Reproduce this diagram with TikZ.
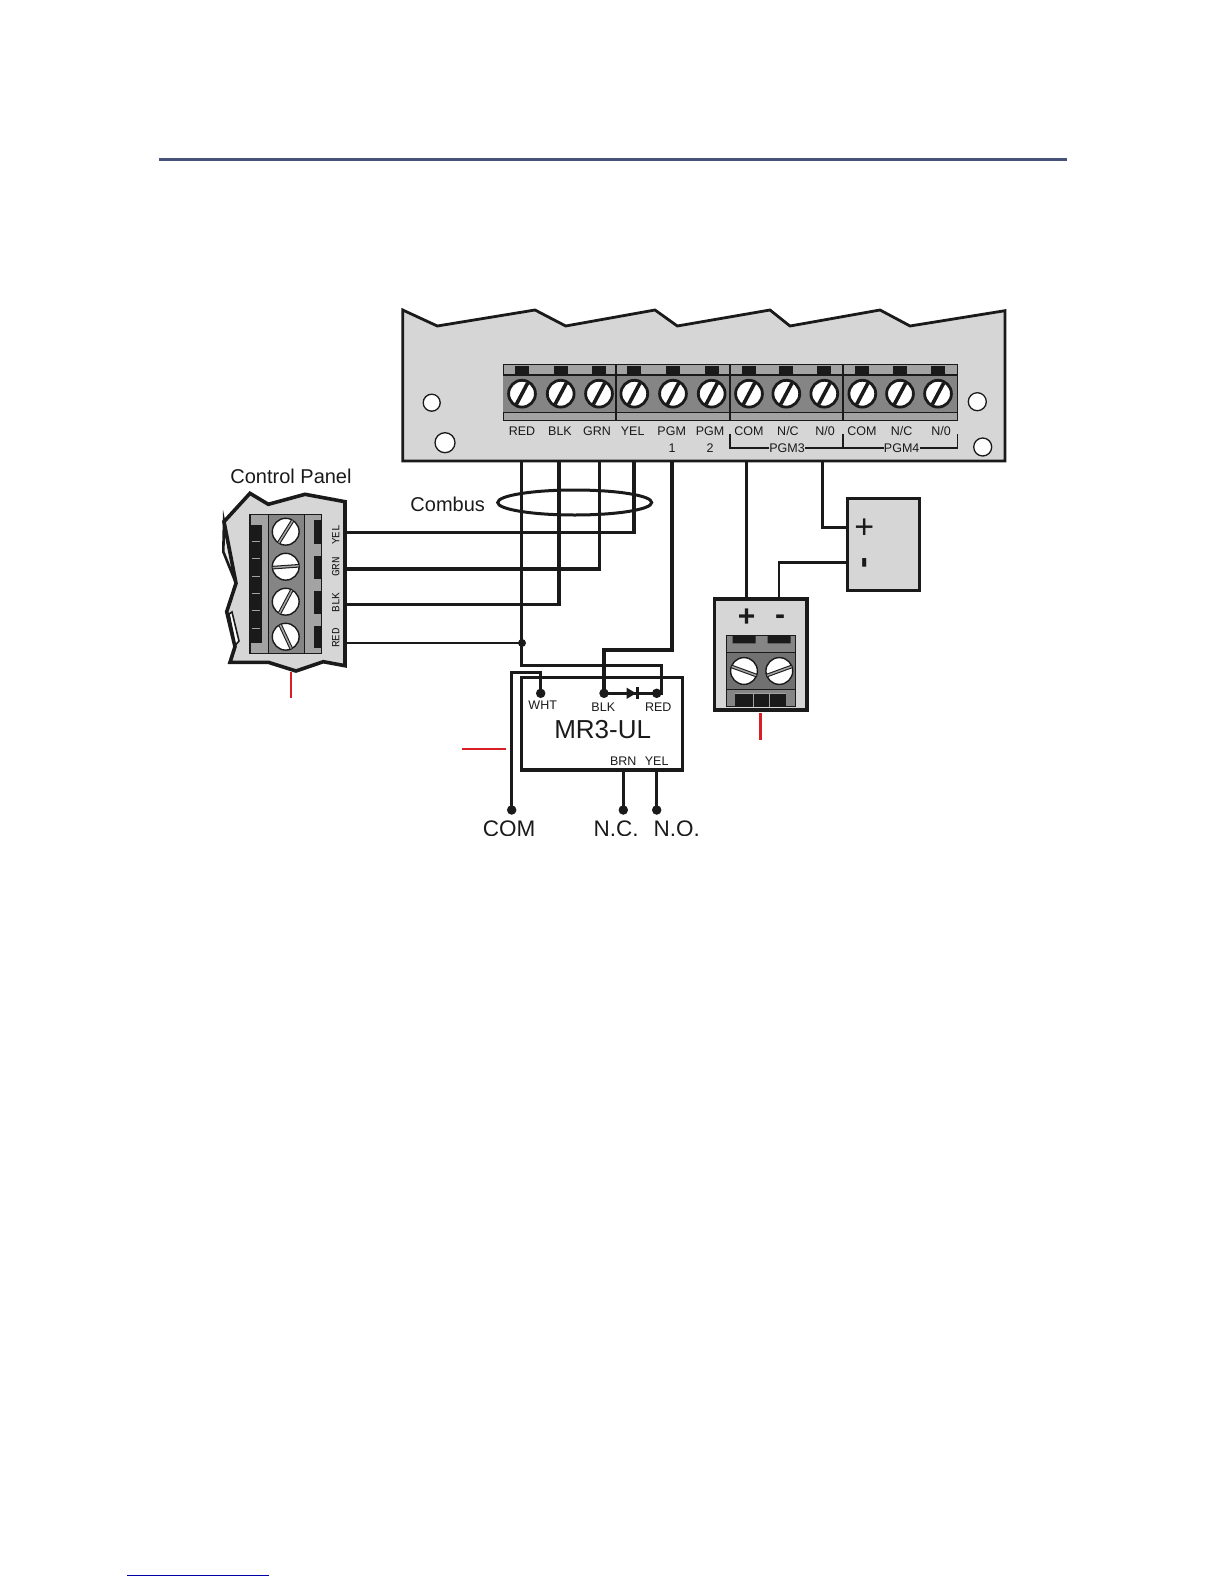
\documentclass[tikz,border=0pt]{standalone}
\usepackage{fontspec}
\usetikzlibrary{shapes.geometric}
\setmainfont{Liberation Sans}
\newfontfamily\tagfont{Liberation Mono}
\definecolor{plate}{HTML}{D6D6D6}
\definecolor{blockgray}{HTML}{A3A3A3}
\definecolor{blockdark}{HTML}{858585}
\definecolor{ink}{HTML}{1A1A1A}
\definecolor{rulecol}{HTML}{47527A}
\definecolor{leadred}{HTML}{D81F26}
\tikzset{
  wire/.style={draw=ink, line width=3.4pt},
  thinwire/.style={draw=ink, line width=2.7pt},
  edge/.style={draw=ink, line width=2.8pt, line join=miter},
  lead/.style={draw=leadred, line width=1.8pt},
  dot/.style={circle, fill=ink, inner sep=0pt, minimum size=9.5pt},
  hole/.style={circle, draw=ink, fill=white, line width=1.3pt, inner sep=0pt, minimum size=#1},
  tag/.style={text=ink, font=\fontsize{12.5pt}{14pt}\selectfont, inner sep=0pt},
  title/.style={text=ink, font=\fontsize{20pt}{22pt}\selectfont, inner sep=0pt},
  bigtag/.style={text=ink, font=\fontsize{22.5pt}{24pt}\selectfont, inner sep=0pt},
  sign/.style={text=ink, inner sep=0pt, font=\fontsize{34pt}{36pt}\selectfont},
  paneltag/.style={text=ink, rotate=90, inner sep=0pt, font=\tagfont\fontsize{11pt}{12pt}\selectfont},
}
% screw with one slot: x, y, angle
\newcommand{\boardscrew}[3]{
  \fill[white, draw=ink, line width=2.8pt] (#1,#2) circle (13.4);
  \draw[ink, line width=3.6pt] ([shift={(-#3:12)}]#1,#2) -- ([shift={(180-#3:12)}]#1,#2);
}
% screw with a double slot: x, y, angle
\newcommand{\blockscrew}[3]{
  \fill[white, draw=ink, line width=1.4pt] (#1,#2) circle (13.4);
  \draw[ink, line width=3.6pt] ([shift={(-#3:13)}]#1,#2) -- ([shift={(180-#3:13)}]#1,#2);
  \draw[blockgray, line width=1.5pt] ([shift={(-#3:13)}]#1,#2) -- ([shift={(180-#3:13)}]#1,#2);
}
\begin{document}
\begin{tikzpicture}[x=1pt, y=-1pt]
  \useasboundingbox (0,0) rectangle (1224,1584);
  % page rules
  \coordinate (ruleL) at (159,159.3);
  \coordinate (ruleR) at (1066.7,159.3);
  \draw[rulecol, line width=2.7pt] (ruleL) -- (ruleR);
  \coordinate (linkL) at (127.3,1575.3);
  \coordinate (linkR) at (268.7,1575.3);
  \draw[blue!65!black, line width=1pt] (linkL) -- (linkR);

  % expansion board
  \draw[edge, fill=plate] (402.7,310) -- (437.3,326) -- (535,310) -- (565.7,326) -- (655,310)
    -- (677.3,326) -- (770,310) -- (790,326) -- (880,310) -- (910,326) -- (1005,310.7)
    -- (1005,461) -- (402.7,461) -- cycle;
  \fill[blockgray, draw=ink, line width=1pt] (503.3,364) rectangle (957.3,420);
  \fill[blockdark] (503.3,375) rectangle (957.3,412.7);
  \draw[ink, line width=1.4pt] (503.3,375) -- (957.3,375) (503.3,412.7) -- (957.3,412.7);
  \draw[ink, line width=1.8pt] (615.7,364) -- (615.7,420) (730,364) -- (730,420) (843.3,364) -- (843.3,420);
  \foreach \sx in {522,560.7,599,634.3,673,711.7,749,786.3,824.3,862.3,900,938} {
    \fill[ink] (\sx-7,366) rectangle (\sx+7,374.5);
    \boardscrew{\sx}{393.7}{62}
  }
  \node[hole=17pt] (holeA) at (431.7,402.7) {};
  \node[hole=20pt] (holeB) at (445,442.7) {};
  \node[hole=18pt] (holeC) at (977.3,401.7) {};
  \node[hole=18pt] (holeD) at (982.7,447) {};
  \node[tag] (lbRed) at (522,431) {RED};
  \node[tag] (lbBlk) at (560,431) {BLK};
  \node[tag] (lbGrn) at (597,431) {GRN};
  \node[tag] (lbYel) at (632.7,431) {YEL};
  \node[tag] (lbPgmA) at (671.7,431) {PGM};
  \node[tag] (lbPgmB) at (710,431) {PGM};
  \node[tag] (lbOneA) at (672,448) {1};
  \node[tag] (lbOneB) at (710,448) {2};
  \node[tag] (lbComA) at (749,431) {COM};
  \node[tag] (lbNcA) at (788,431) {N/C};
  \node[tag] (lbNoA) at (825,431) {N/0};
  \node[tag] (lbComB) at (862,431) {COM};
  \node[tag] (lbNcB) at (901.7,431) {N/C};
  \node[tag] (lbNoB) at (941,431) {N/0};
  \node[tag] (lbPgmC) at (787,448) {PGM3};
  \node[tag] (lbPgmD) at (901.7,448) {PGM4};
  \coordinate (brA) at (730,433.5);
  \coordinate (brB) at (842.7,433.5);
  \coordinate (brC) at (957.3,433.5);
  \draw[ink, line width=1.6pt] (brA) |- (lbPgmC.west);
  \draw[ink, line width=1.6pt] (lbPgmC.east) -| (brB);
  \draw[ink, line width=1.6pt] (brB) |- (lbPgmD.west);
  \draw[ink, line width=1.6pt] (lbPgmD.east) -| (brC);

  % control panel block
  \node[title] (ctrl) at (291,476.5) {Control Panel};
  \fill[plate!50!white, draw=ink, line width=2.6pt] (224,521.7) -- (223.3,551.7) -- (236,583.3) -- cycle;
  \draw[edge, line width=3.6pt, fill=plate] (250,493.3) -- (268.3,504.3) -- (305,494.3) -- (345,501.7)
    -- (345,665.7) -- (323.3,661.7) -- (296,671) -- (268.3,662.3) -- (230,662.3) -- (235,646.7)
    -- (226.7,611.7) -- (236,583.3) -- (224,521.7) -- cycle;
  \fill[white, draw=ink, line width=1.6pt] (229,614) -- (232,612) -- (239,641) -- (235.5,645) -- cycle;
  \fill[blockgray, draw=ink, line width=1.2pt] (250,514.3) rectangle (321.7,653.3);
  \fill[blockdark, draw=ink, line width=1pt] (268.3,514.3) rectangle (304.3,653.3);
  \fill[ink] (250,525) rectangle (261.7,643);
  \foreach \ty in {541,558.3,576,593.3,610.7,628.3}
    \draw[blockgray, line width=1pt] (251.5,\ty) -- (259.5,\ty);
  \foreach \ty/\tb in {520/544,555.7/579,591/614.3,626/648.3}
    \fill[ink] (314,\ty) rectangle (321.7,\tb);
  \blockscrew{285.7}{531.7}{58}
  \blockscrew{285.7}{566.7}{4}
  \blockscrew{285.7}{601.7}{62}
  \blockscrew{285.7}{636.7}{115}
  \node[paneltag] (ptYel) at (335.7,535) {YEL};
  \node[paneltag] (ptGrn) at (335.7,566.7) {GRN};
  \node[paneltag] (ptBlk) at (335.7,602.3) {BLK};
  \node[paneltag] (ptRed) at (335.7,637.7) {RED};
  \coordinate (leadPanelA) at (291,671.7);
  \coordinate (leadPanelB) at (291,698);
  \draw[lead] (leadPanelA) -- (leadPanelB);

  % relay module
  \node[draw=ink, line width=3.3pt, minimum width=161pt, minimum height=92.3pt, inner sep=0pt] (relay) at (602.2,723.85) {};
  \node[text=ink, inner sep=0pt, font=\fontsize{26pt}{28pt}\selectfont] (relayName) at (602.7,730) {MR3-UL};
  \node[tag] (lbWht) at (542.7,705) {WHT};
  \node[tag] (lbRblk) at (603.3,706.7) {BLK};
  \node[tag] (lbRred) at (658.3,706.7) {RED};
  \node[tag] (lbBrn) at (623.3,761) {BRN};
  \node[tag] (lbRyel) at (656.7,761) {YEL};
  \node[dot] (dWht) at (540.7,693.3) {};
  \node[dot] (dBlk) at (604,693.3) {};
  \node[dot] (dRed) at (656.7,693.3) {};
  \node[dot] (dCom) at (511.7,810) {};
  \node[dot] (dNc) at (623.3,810) {};
  \node[dot] (dNo) at (656.7,810) {};
  \node[dot, minimum size=8pt] (dTap) at (522,643) {};
  \begin{scope}
    \clip (480,800) rectangle (720,835);
    \node[bigtag] (lbCom) at (509,829) {COM};
    \node[bigtag] (lbNc) at (616,829) {N.C.};
    \node[bigtag] (lbNo) at (676.7,829) {N.O.};
  \end{scope}
  \coordinate (leadRelayA) at (462,749);
  \coordinate (leadRelayB) at (506,749);
  \draw[lead] (leadRelayA) -- (leadRelayB);

  % power supply and siren block
  \node[draw=ink, fill=plate, line width=3pt, minimum width=71.7pt, minimum height=92.4pt, inner sep=0pt] (supply) at (883.2,544.5) {};
  \node[sign] (supPlus) at (864.3,528.5) {+};
  \node[sign, rotate=90, font=\fontsize{34pt}{36pt}\bfseries\selectfont] (supMinus) at (868,563) {-};
  \node[draw=ink, fill=plate, line width=3.6pt, minimum width=92.4pt, minimum height=111pt, inner sep=0pt] (sounder) at (760.5,654.5) {};
  \node[sign, font=\fontsize{30pt}{32pt}\bfseries\selectfont] (sndPlus) at (746.7,617.5) {+};
  \node[sign, font=\fontsize{30pt}{32pt}\bfseries\selectfont] (sndMinus) at (780,620) {-};
  \fill[blockdark, draw=ink, line width=1pt] (726,635) rectangle (795,706.7);
  \fill[blockdark!85!black, draw=ink, line width=1pt] (726,652.7) rectangle (795,689);
  \fill[ink] (732.7,635.7) rectangle (755.7,643.3) (767.7,635.7) rectangle (790.7,643.3);
  \fill[ink] (735,693.3) rectangle (785.7,706.7);
  \draw[blockgray, line width=1pt] (735,693.3) -- (785.7,693.3) (753,693.3) -- (753,706.7) (769,693.3) -- (769,706.7);
  \blockscrew{744}{671}{-20}
  \blockscrew{779.3}{671}{20}
  \coordinate (leadSndA) at (760.7,713);
  \coordinate (leadSndB) at (760.7,740);
  \draw[leadred, line width=2.6pt] (leadSndA) -- (leadSndB);

  % wiring
  \coordinate (tRed) at (521.7,461);
  \coordinate (tBlk) at (559,461);
  \coordinate (tGrn) at (599.7,461);
  \coordinate (tYel) at (634,461);
  \coordinate (tPgm) at (672,461);
  \coordinate (tCom) at (746.7,461);
  \coordinate (tNo) at (822.3,461);
  \coordinate (pYel) at (345,532.3);
  \coordinate (pGrn) at (345,569);
  \coordinate (pBlk) at (345,604.7);
  \coordinate (pRed) at (345,643);
  \coordinate (bendRed) at (661.7,665.7);
  \coordinate (endRed) at (661.7,693.3);
  \coordinate (bendPgm) at (604,650);
  \coordinate (bendCom) at (511.7,672.7);
  \coordinate (inPlus) at (847.3,527.3);
  \coordinate (inMinus) at (847.3,562.3);
  \coordinate (sndA) at (746.7,599);
  \coordinate (sndB) at (779,599);
  \draw[wire] (tYel) |- (pYel);
  \draw[wire] (tGrn) |- (pGrn);
  \draw[wire] (tBlk) |- (pBlk);
  \draw[thinwire] (dTap.center) -- (pRed);
  \draw[wire] (tRed) |- (bendRed) -- (endRed) -- (dBlk.center);
  \draw[wire] (tPgm) |- (bendPgm) -- (dBlk.center);
  \draw[wire] (dWht.center) |- (bendCom) -- (dCom.center);
  \draw[wire] (relay.south -| dNc) -- (dNc.center);
  \draw[wire] (relay.south -| dNo) -- (dNo.center);
  \draw[wire] (tCom) -- (sndA);
  \draw[wire] (tNo) |- (inPlus);
  \draw[thinwire] (inMinus) -| (sndB);
  \fill[ink] (626.7,687.7) -- (636,693.3) -- (626.7,698.9) -- cycle;
  \fill[ink] (636,687.2) rectangle (639,699.2);

  % combus loop
  \node[title] (combus) at (447.7,504.3) {Combus};
  \node[draw=ink, line width=3pt, ellipse, minimum width=154pt, minimum height=25pt, inner sep=0pt] (loop) at (574.7,502.5) {};
\end{tikzpicture}
\end{document}
